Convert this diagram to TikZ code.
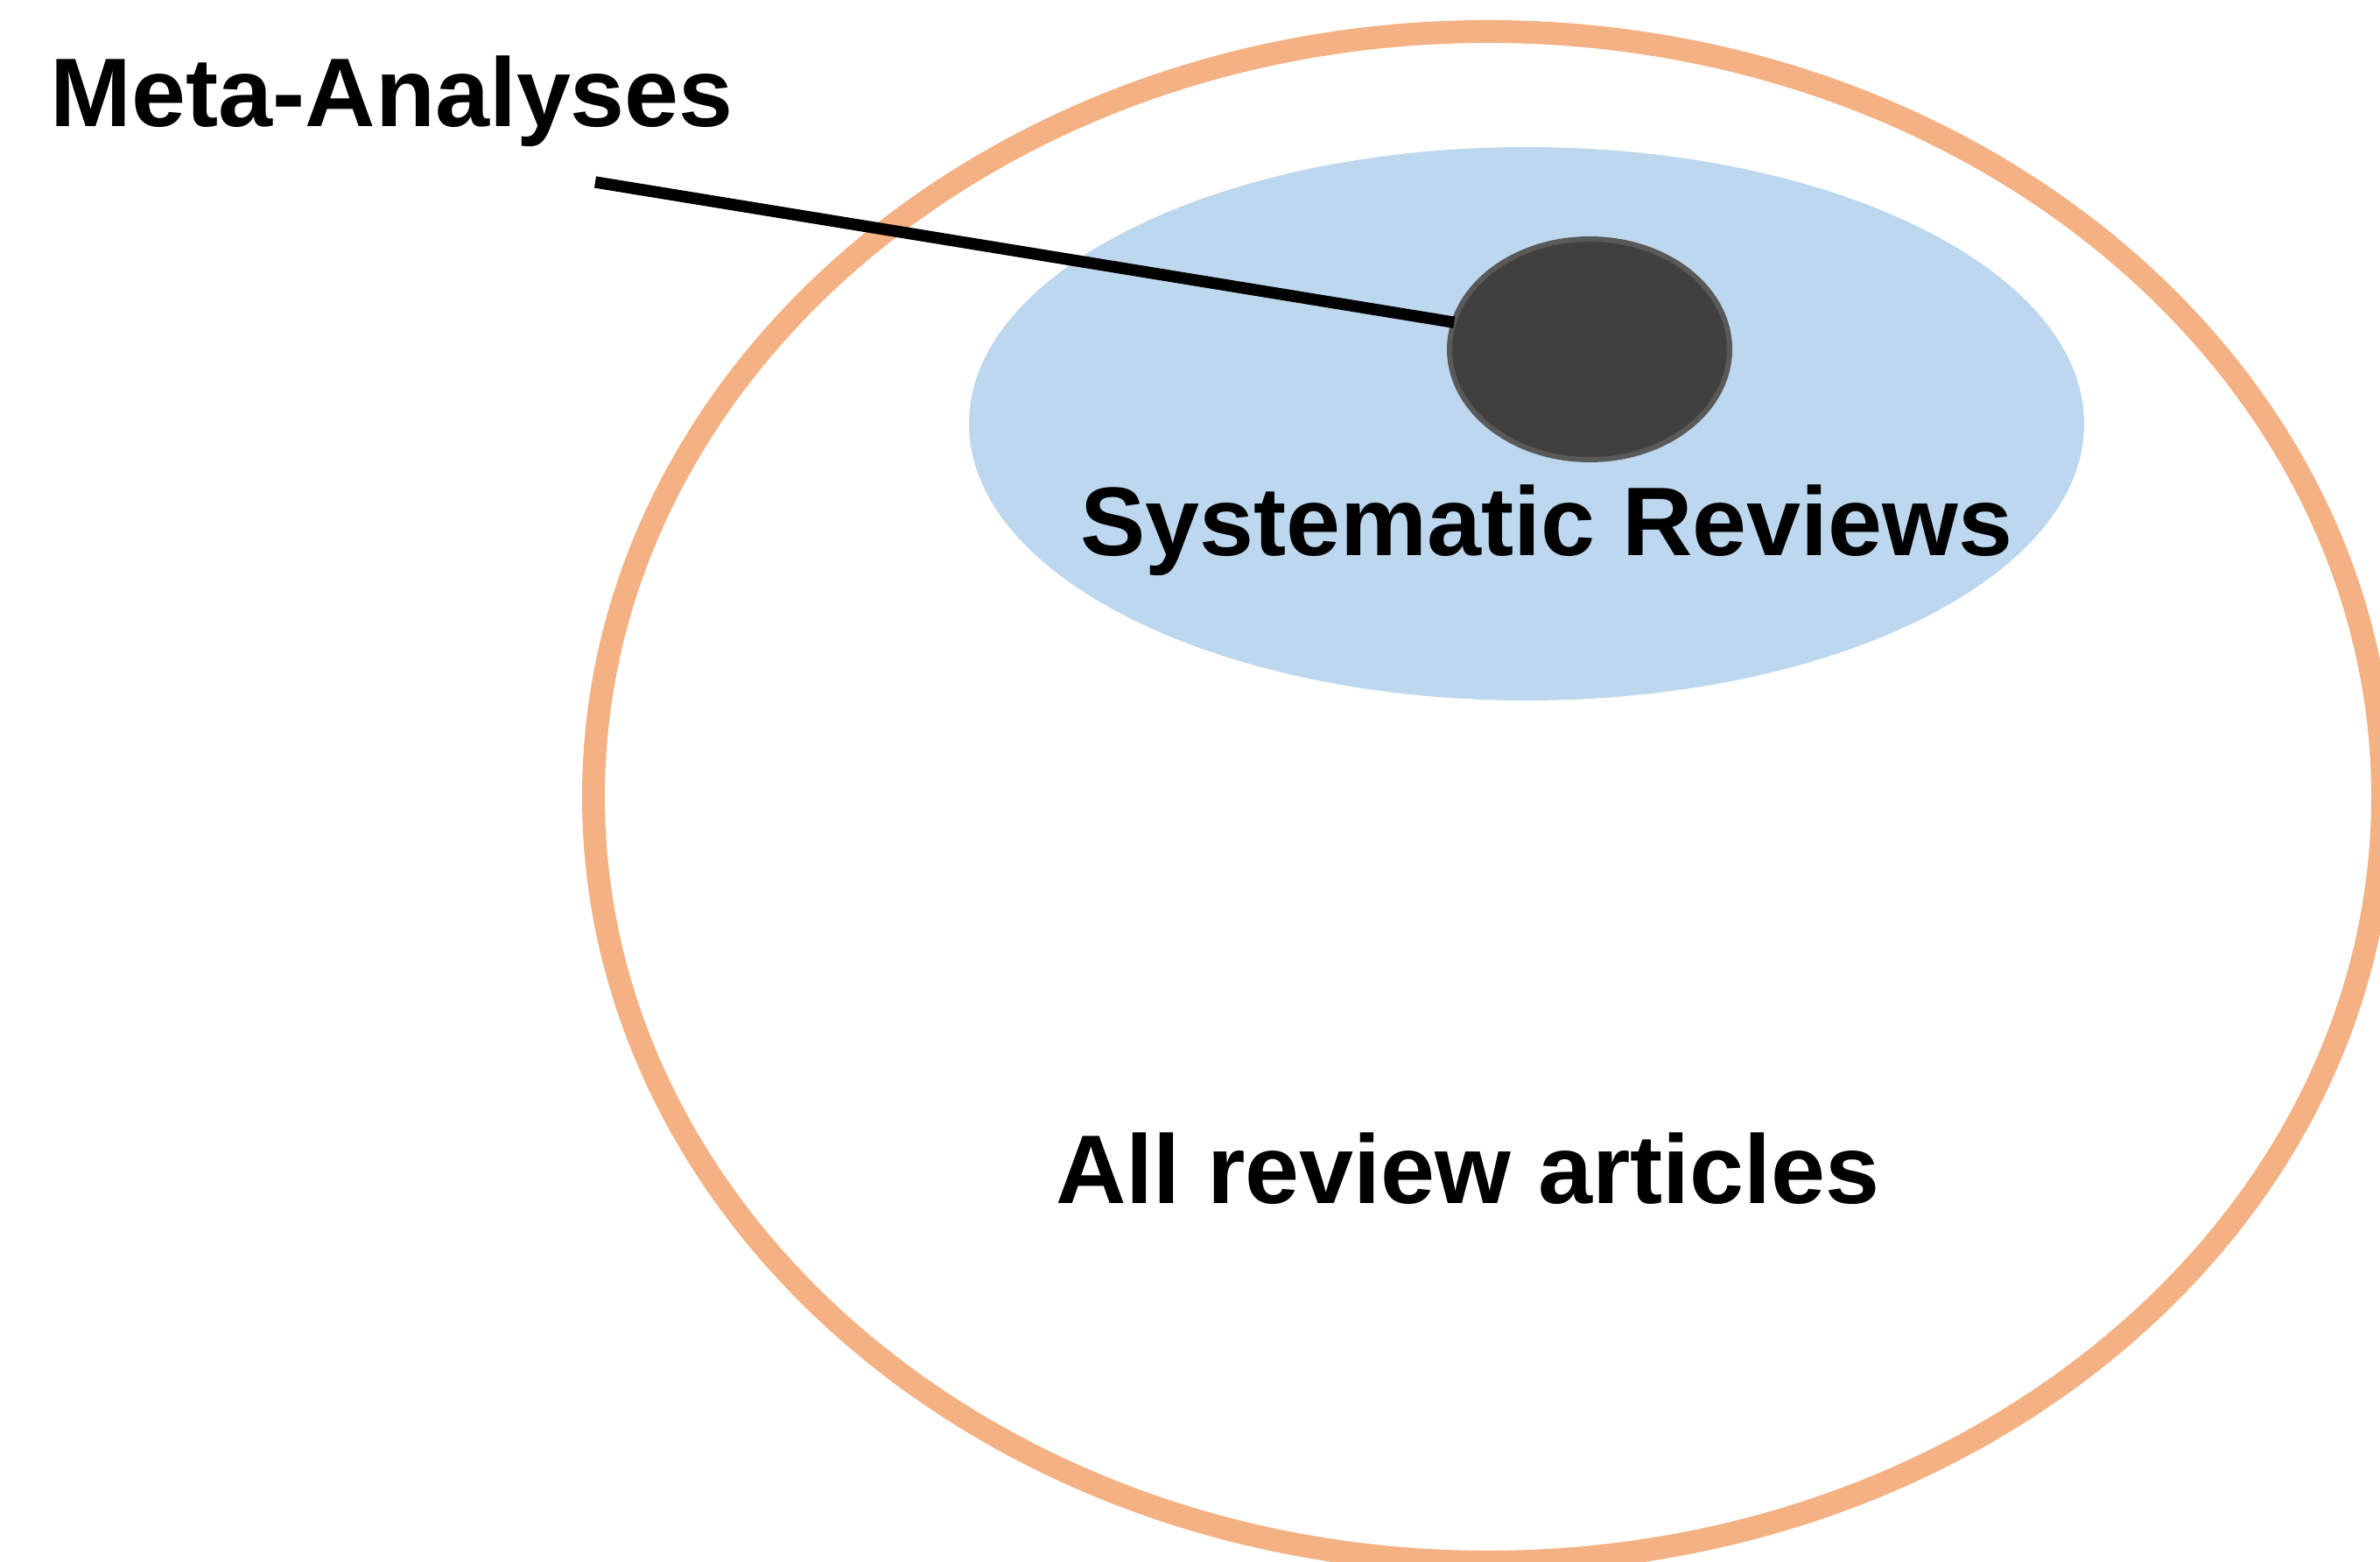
\documentclass[tikz,border=0pt]{standalone}
\usepackage{fontspec}
\setmainfont{Liberation Sans}
\usetikzlibrary{shapes.geometric}

\definecolor{allorange}{HTML}{F4B183}
\definecolor{sysblue}{HTML}{BDD7EE}
\definecolor{metadark}{HTML}{404040}
\definecolor{metaedge}{HTML}{595959}

\tikzset{
    lbl/.style={inner sep=0pt, font=\fontsize{31.7}{37}\selectfont\bfseries},
    blob/.style={ellipse, inner sep=0pt}
}

\begin{document}
\begin{tikzpicture}
        \useasboundingbox (0,0) rectangle (27.19,17.83);

        % all review articles
        \node[blob, draw=allorange, line width=7.4pt, minimum width=20.44cm, minimum height=17.48cm] (all) at (17.00,8.73) {};

        % systematic reviews
        \node[blob, fill=sysblue, minimum width=12.74cm, minimum height=6.32cm] (sys) at (17.44,12.99) {};

        % meta-analyses
        \node[blob, fill=metadark, draw=metaedge, line width=1.7pt, minimum width=3.2cm, minimum height=2.52cm] (meta) at (18.16,13.84) {};

        \node[lbl, anchor=base west] (metatext) at (0.57,16.38) {Meta-Analyses};
        \node[lbl, anchor=base] (systext) at (17.67,11.48) {Systematic Reviews};
        \node[lbl, anchor=base] (alltext) at (16.77,4.09) {All review articles};

        \coordinate (metatail) at (6.80,15.75);
        \draw[black, line width=3.8pt] (metatail) -- ([xshift=1pt]meta.169);
    \end{tikzpicture}
\end{document}
